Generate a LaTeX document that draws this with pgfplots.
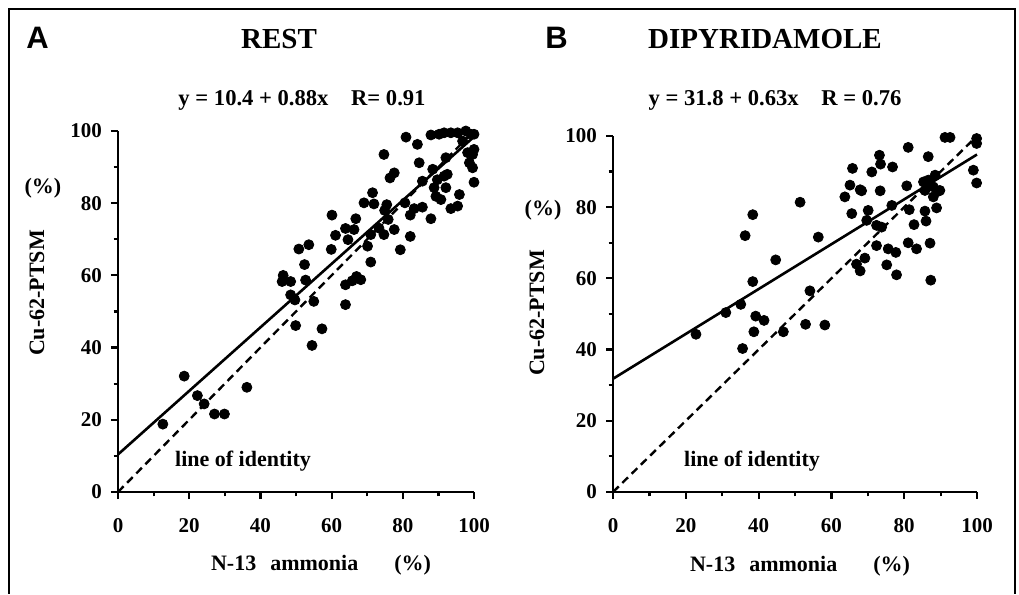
\documentclass[border=0pt]{standalone}
\usepackage{fontspec}
\setmainfont{Liberation Serif}
\newfontfamily\sansb{Liberation Sans}
\usepackage{pgfplots}
\pgfplotsset{compat=1.18}

\pgfplotsset{
  panel/.style={
    scale only axis,
    anchor=south west,
    xmin=0, xmax=100, ymin=0, ymax=100,
    axis x line*=bottom, axis y line*=left,
    axis line style={line width=1.4pt},
    xtick={0,20,...,100}, ytick={0,20,...,100},
    minor tick num=1,
    tick align=outside,
    major tick length=3.5pt, minor tick length=2.2pt,
    every tick/.style={line width=1.1pt, black},
    /pgf/number format/assume math mode=true,
    ticklabel style={font=\bfseries\fontsize{10.5}{12}\selectfont},
    xticklabel style={yshift=-6pt},
    yticklabel style={xshift=-1pt},
    clip=false,
  },
  dots/.style={only marks, mark=*, mark size=2.5pt, black},
}

\begin{document}
\begin{tikzpicture}
\path (0,0) rectangle (509.5pt,297pt);
\draw[line width=0.8pt] (4.5pt,0) -- (4.5pt,292.5pt) -- (507.5pt,292.5pt) -- (507.5pt,0);

% ---- panel A: rest
\begin{axis}[panel, at={(59pt,51pt)}, width=178pt, height=180.5pt]
\addplot[dots] coordinates {
(12.6,18.8) (18.6,32.1) (22.3,26.7) (24.2,24.4) (27.1,21.6) (29.9,21.6) (36.2,29.0)
(46.4,60.0) (46.1,58.3) (48.5,58.3) (48.5,54.6) (49.7,53.2) (49.9,46.1) (50.8,67.3)
(53.6,68.5) (52.4,63.0) (52.7,58.7) (55.0,52.8) (54.5,40.6) (57.3,45.2) (60.1,76.7)
(59.9,67.2) (61.1,71.1) (63.9,73.0) (66.3,72.7) (64.6,69.9) (66.8,75.7) (63.9,51.9)
(63.9,57.4) (65.8,58.5) (67.0,59.7) (68.2,58.8) (69.1,80.1) (71.5,82.9) (71.9,79.8)
(70.1,68.1) (71.0,63.7) (71.0,71.3) (73.3,73.1) (74.7,93.5) (75.5,79.6) (74.9,78.0)
(75.9,75.5) (74.7,71.3) (76.4,87.0) (77.6,88.4) (77.6,72.7) (79.3,67.1) (80.9,98.3)
(80.6,80.1) (82.1,76.7) (82.1,70.8) (84.1,96.3) (84.6,91.2) (83.2,78.5) (85.5,78.9)
(85.5,86.1) (87.9,75.7) (87.9,98.9) (88.4,89.4) (88.8,84.3) (89.3,81.9) (90.7,81.0)
(90.2,99.1) (91.6,99.5) (93.5,99.5) (95.4,99.5) (92.1,92.6) (91.6,87.5) (92.1,84.3)
(93.5,78.5) (95.4,79.2) (95.9,82.4) (96.8,97.2) (97.7,100) (99.1,99.1) (100,99.1)
(99.6,93.5) (99.6,89.8) (98.2,94.0) (100,85.8) (100,94.9) (98.7,91.2) (89.7,86.5)
(92.5,88.0)
};
\addplot[black, line width=1.3pt] coordinates {(0,10.4) (100,98.4)};
\addplot[black, line width=1.2pt, dash pattern=on 4pt off 2.5pt] coordinates {(0,0) (100,100)};
\end{axis}

% ---- panel B: dipyridamole
\begin{axis}[panel, at={(306.5pt,51pt)}, width=182pt, height=178pt]
\addplot[dots] coordinates {
(22.8,44.3) (31.0,50.4) (35.1,52.7) (35.6,40.3) (36.3,72.0) (38.4,77.9) (38.4,59.1)
(39.2,49.4) (38.7,45.0) (41.5,48.2) (44.7,65.2) (46.8,45.0) (51.4,81.4) (52.9,47.1)
(54.1,56.5) (56.4,71.6) (58.2,46.9) (63.7,82.9) (65.1,86.2) (65.8,90.9) (65.6,78.2)
(67.9,84.9) (68.3,84.6) (66.9,64.0) (67.9,62.1) (69.2,65.7) (70.1,79.1) (69.7,76.3)
(71.1,89.9) (73.2,94.6) (73.5,92.1) (73.4,84.6) (72.4,74.9) (73.8,74.4) (72.4,69.2)
(75.2,63.8) (75.6,68.3) (76.6,80.5) (76.8,91.3) (77.7,67.3) (77.9,61.0) (80.7,86.0)
(81.4,79.3) (81.1,96.8) (81.1,70.0) (82.7,75.1) (83.4,68.3) (85.7,78.9) (86.0,76.1)
(85.3,87.1) (85.7,84.7) (86.6,94.2) (87.1,69.9) (87.3,59.5) (87.1,86.2) (88.0,82.9)
(88.5,89.0) (88.9,79.8) (89.4,84.5) (89.8,84.7) (91.2,99.6) (92.6,99.6) (99.0,90.4)
(99.9,99.3) (99.9,97.9) (99.9,86.8) (86.6,87.6) (88.0,85.7)
};
\addplot[black, line width=1.3pt] coordinates {(0,31.8) (100,94.8)};
\addplot[black, line width=1.2pt, dash pattern=on 4pt off 2.5pt] coordinates {(0,0) (100,100)};
\end{axis}

% ---- texts
\node[font=\sansb\bfseries\fontsize{15.5}{17}\selectfont] at (18.75pt,278.25pt) {A};
\node[font=\sansb\bfseries\fontsize{15.5}{17}\selectfont] at (278.25pt,278.25pt) {B};
\node[font=\bfseries\fontsize{14.5}{17}\selectfont] at (139.5pt,277.5pt) {REST};
\node[font=\bfseries\fontsize{14.5}{17}\selectfont] at (382.5pt,277.5pt) {DIPYRIDAMOLE};
\node[font=\bfseries\fontsize{11.3}{13}\selectfont] at (151pt,247pt) {y = 10.4 + 0.88x\quad R= 0.91};
\node[font=\bfseries\fontsize{11.3}{13}\selectfont] at (387.5pt,247pt) {y = 31.8 + 0.63x\quad R = 0.76};
\node[font=\bfseries\fontsize{11}{13}\selectfont, rotate=90] at (18.5pt,150.5pt) {Cu-62-PTSM};
\node[font=\bfseries\fontsize{11}{13}\selectfont, rotate=90] at (268.5pt,140.5pt) {Cu-62-PTSM};
\node[font=\bfseries\fontsize{11}{13}\selectfont] at (21.5pt,203pt) {(\%)};
\node[font=\bfseries\fontsize{11}{13}\selectfont] at (271.5pt,192pt) {(\%)};
\node[font=\bfseries\fontsize{11}{13}\selectfont] at (160.5pt,14.5pt) {N-13\hspace{7pt}ammonia\hspace{18pt}(\%)};
\node[font=\bfseries\fontsize{11}{13}\selectfont] at (400pt,14pt) {N-13\hspace{7pt}ammonia\hspace{18pt}(\%)};
\node[font=\bfseries\fontsize{11}{13}\selectfont] at (121.5pt,66.5pt) {line of identity};
\node[font=\bfseries\fontsize{11}{13}\selectfont] at (376pt,66.5pt) {line of identity};
\end{tikzpicture}
\end{document}
